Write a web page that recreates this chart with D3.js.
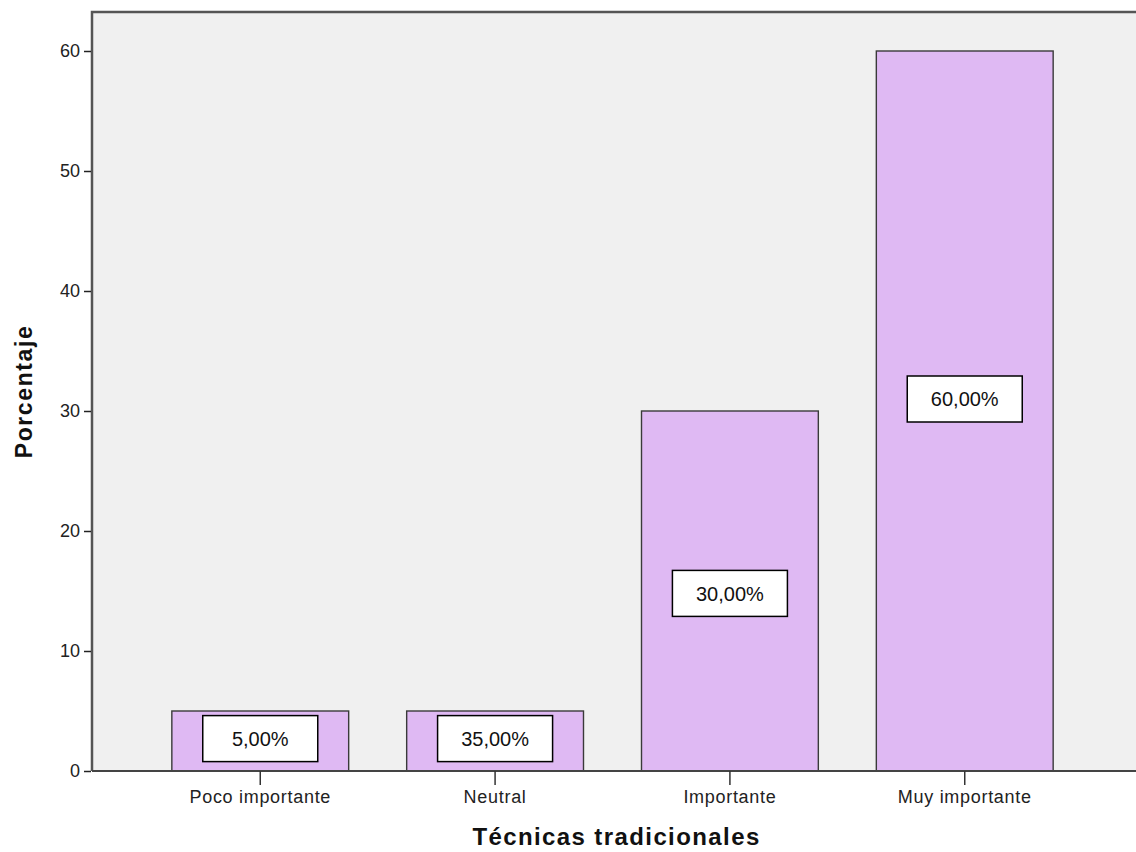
<!DOCTYPE html>
<html><head><meta charset="utf-8">
<script src="https://cdn.jsdelivr.net/npm/d3@7"></script>
<style>body{margin:0;background:#fff}svg{display:block;font-family:"Liberation Sans",Arial,sans-serif}</style>
</head><body><svg id="c" width="1136" height="852"></svg>
<script>
const categories = ["Poco importante", "Neutral", "Importante", "Muy importante"];
const values = [5, 5, 30, 60];
const labels = ["5,00%", "35,00%", "30,00%", "60,00%"];
const labelAnchor = [2.7, 2.7, 14.8, 31];
const yTicks = [0, 10, 20, 30, 40, 50, 60];
const xTitle = "Técnicas tradicionales";
const yTitle = "Porcentaje";

const svg = d3.select("#c");
const L = 92, R = 1133, T = 12, B = 771;
const x = d3.scaleBand().domain(categories).range([L, R]).paddingInner(0.247).paddingOuter(0.34);
const y = d3.scaleLinear().domain([0, 60]).range([B, 51]);

svg.append("rect").attr("x", L).attr("y", T).attr("width", R - L + 4).attr("height", B - T)
  .attr("fill", "#f0f0f0");

svg.selectAll("rect.bar").data(values).join("rect").attr("class", "bar")
  .attr("x", (d, i) => x(categories[i])).attr("width", x.bandwidth())
  .attr("y", d => y(d)).attr("height", d => y(0) - y(d))
  .attr("fill", "#dfb9f3").attr("stroke", "#3a3a3a").attr("stroke-width", 1.4);

svg.append("path").attr("d", `M${L},${B}V${T}H${R + 4}`).attr("fill", "none").attr("stroke", "#555").attr("stroke-width", 2.5);
svg.append("line").attr("x1", L).attr("x2", R + 4).attr("y1", B).attr("y2", B).attr("stroke", "#444").attr("stroke-width", 2);

const yAxis = d3.axisLeft(y).tickValues(yTicks).tickSize(7).tickPadding(4);
const ga = svg.append("g").attr("transform", `translate(${L - 1},0)`).call(yAxis);
ga.select(".domain").remove();
ga.selectAll("line").attr("stroke", "#222").attr("stroke-width", 1.5);
ga.selectAll("text").attr("font-size", 18).attr("fill", "#222").attr("font-family", "Liberation Sans, Arial");

const xAxis = d3.axisBottom(x).tickSize(14).tickPadding(5);
const gx = svg.append("g").attr("transform", `translate(0,${B})`).call(xAxis);
gx.select(".domain").remove();
gx.selectAll("line").attr("stroke", "#333").attr("stroke-width", 1.5);
gx.selectAll("text").attr("font-size", 18).attr("letter-spacing", 0.7).attr("fill", "#222").attr("font-family", "Liberation Sans, Arial");

const bw = 115, bh = 46;
const lg = svg.selectAll("g.lab").data(labels).join("g").attr("class", "lab")
  .attr("transform", (d, i) => `translate(${x(categories[i]) + x.bandwidth() / 2},${y(labelAnchor[i])})`);
lg.append("rect").attr("x", -bw / 2).attr("y", -bh / 2).attr("width", bw).attr("height", bh)
  .attr("fill", "#fff").attr("stroke", "#000").attr("stroke-width", 1.5);
lg.append("text").text(d => d).attr("text-anchor", "middle").attr("dy", "0.36em")
  .attr("font-size", 20).attr("fill", "#111");

svg.append("text").text(xTitle).attr("x", (L + R) / 2 + 4).attr("y", 845)
  .attr("text-anchor", "middle").attr("font-size", 24).attr("font-weight", "bold").attr("letter-spacing", 1.4).attr("fill", "#111");
svg.append("text").text(yTitle).attr("transform", `translate(32,${(T + B) / 2}) rotate(-90)`)
  .attr("text-anchor", "middle").attr("font-size", 23).attr("font-weight", "bold").attr("letter-spacing", 1.6).attr("fill", "#111");
</script></body></html>
